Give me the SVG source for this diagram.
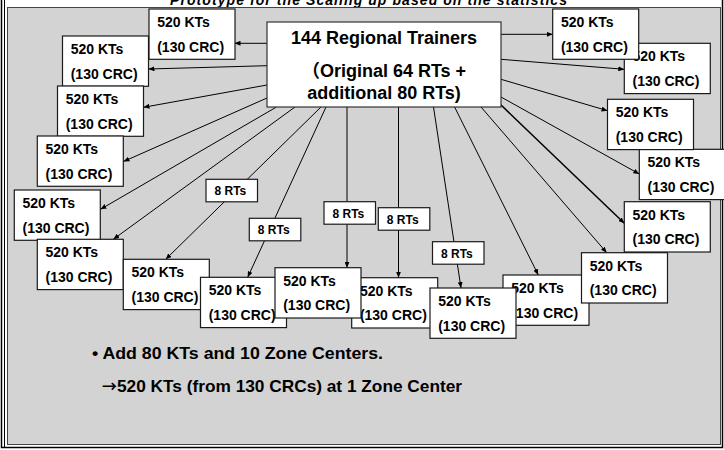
<svg xmlns="http://www.w3.org/2000/svg" width="724" height="450" viewBox="0 0 724 450">
  <style>
    .bx{fill:#fff;stroke:#1a1a1a;stroke-width:1.2}
    .hub{fill:#fff;stroke:#333;stroke-width:1.2}
    .t{font-family:"Liberation Sans",Arial,"Noto Sans CJK JP",sans-serif;font-weight:bold;fill:#000}
    .kt{font-size:14px}
    .rt{font-size:12px}
    .hubt{font-size:18px;text-anchor:middle}
    .note{font-size:17px}
    .arw{font-family:"Noto Sans CJK JP",sans-serif;font-weight:bold;font-size:15px}
    .title{font-size:14px;font-style:italic}
    #connectors line{stroke:#000;stroke-width:1;marker-end:url(#ah)}
  </style>
  <defs>
    <marker id="ah" markerWidth="6" markerHeight="5" refX="6" refY="2.5" orient="auto" markerUnits="userSpaceOnUse">
      <path d="M0,0 L6,2.5 L0,5 Z" fill="#000"/>
    </marker>
    <g id="ktbox">
      <rect class="bx" x="0" y="0" width="86" height="50.3"/>
      <text class="t kt" x="8.2" y="18">520 KTs</text>
      <text class="t kt" x="8.2" y="42.5">(130 CRC)</text>
    </g>
    <g id="rtbox">
      <rect class="bx" x="0" y="0" width="51.5" height="22.5"/>
      <text class="t rt" x="8.5" y="16">8 RTs</text>
    </g>
  </defs>

  <!-- page frame and grey panel -->
  <rect x="0" y="0" width="724" height="450" fill="#fff"/>
  <text class="t title" x="170" y="4.5" textLength="397">Prototype for the Scaling up based on the statistics</text>
  <rect x="1.5" y="-2" width="721" height="449.5" fill="none" stroke="#000" stroke-width="1.5"/>
  <line x1="4.5" y1="0" x2="4.5" y2="447" stroke="#000" stroke-width="1"/>
  <rect x="7.5" y="7.5" width="713" height="437" fill="#d3d3d3" stroke="#444" stroke-width="1"/>

  <!-- connectors from the hub -->
  <g id="connectors">
    <line x1="267" y1="43.3" x2="234.5" y2="43.3"/>
    <line x1="267" y1="65.7" x2="148.5" y2="69"/>
    <line x1="267" y1="85" x2="143.5" y2="107.3"/>
    <line x1="267" y1="98" x2="123.5" y2="161.5"/>
    <line x1="276.5" y1="107" x2="100.5" y2="209.3"/>
    <line x1="295" y1="107" x2="113.3" y2="239.3"/>
    <line x1="321" y1="107" x2="165.7" y2="259.3"/>
    <line x1="326" y1="107" x2="247.7" y2="277.3"/>
    <line x1="347" y1="107" x2="347" y2="267.7"/>
    <line x1="398.5" y1="107" x2="398.5" y2="277.7"/>
    <line x1="433.5" y1="107" x2="461" y2="288"/>
    <line x1="454.6" y1="107" x2="538.3" y2="275"/>
    <line x1="481" y1="107" x2="606.7" y2="252.7"/>
    <line x1="500" y1="104" x2="624.3" y2="223.3" style="stroke-width:1.5"/>
    <line x1="501" y1="97" x2="639.3" y2="174"/>
    <line x1="501" y1="79.3" x2="607.5" y2="110.7"/>
    <line x1="501" y1="59.3" x2="624.3" y2="69.3"/>
    <line x1="501" y1="34.3" x2="552.7" y2="34.3"/>
  </g>

  <!-- hub -->
  <g id="hub">
    <rect class="hub" x="267" y="22" width="234" height="85"/>
    <text class="t hubt" x="384" y="43.5">144 Regional Trainers</text>
    <text class="t hubt" x="384" y="76.5">（Original 64 RTs +</text>
    <text class="t hubt" x="384" y="98.5">additional 80 RTs)</text>
  </g>

  <!-- 8 RTs labels on the connectors -->
  <g id="rt1"><use href="#rtbox" transform="translate(206,179.3)"/></g>
  <g id="rt2"><use href="#rtbox" transform="translate(249.3,218.3)"/></g>
  <g id="rt3"><use href="#rtbox" transform="translate(324,201.7)"/></g>
  <g id="rt4"><use href="#rtbox" transform="translate(378.3,207.7)"/></g>
  <g id="rt5"><use href="#rtbox" transform="translate(432.5,241.7)"/></g>

  <!-- 520 KTs / 130 CRC groups -->
  <g id="kt01"><use href="#ktbox" transform="translate(149,9)"/></g>
  <g id="kt02"><use href="#ktbox" transform="translate(62.5,36)"/></g>
  <g id="kt03"><use href="#ktbox" transform="translate(57.5,86)"/></g>
  <g id="kt04"><use href="#ktbox" transform="translate(37.3,136)"/></g>
  <g id="kt05"><use href="#ktbox" transform="translate(14.3,190)"/></g>
  <g id="kt06"><use href="#ktbox" transform="translate(37.3,239.3)"/></g>
  <g id="kt07"><use href="#ktbox" transform="translate(123.3,259.3)"/></g>
  <g id="kt08"><use href="#ktbox" transform="translate(200.5,277.3)"/></g>
  <g id="kt10"><use href="#ktbox" transform="translate(351.7,277.7)"/></g>
  <g id="kt12"><use href="#ktbox" transform="translate(503,275)"/></g>
  <g id="kt09"><use href="#ktbox" transform="translate(275,267.7)"/></g>
  <g id="kt11"><use href="#ktbox" transform="translate(430,288)"/></g>
  <g id="kt13"><use href="#ktbox" transform="translate(581.5,252.7)"/></g>
  <g id="kt14"><use href="#ktbox" transform="translate(624.3,201.7)"/></g>
  <g id="kt15"><use href="#ktbox" transform="translate(639.3,149.3)"/></g>
  <g id="kt16"><use href="#ktbox" transform="translate(607.5,99.3)"/></g>
  <g id="kt17"><use href="#ktbox" transform="translate(624.3,43.3)"/></g>
  <g id="kt18"><use href="#ktbox" transform="translate(552.7,9)"/></g>

  <!-- notes -->
  <g id="notes">
    <text class="t note" x="92" y="359" textLength="291" lengthAdjust="spacingAndGlyphs">• Add 80 KTs and 10 Zone Centers.</text>
    <text class="t note" x="102" y="392"><tspan class="arw">→</tspan><tspan textLength="345" lengthAdjust="spacingAndGlyphs">520 KTs (from 130 CRCs) at 1 Zone Center</tspan></text>
  </g>
</svg>
